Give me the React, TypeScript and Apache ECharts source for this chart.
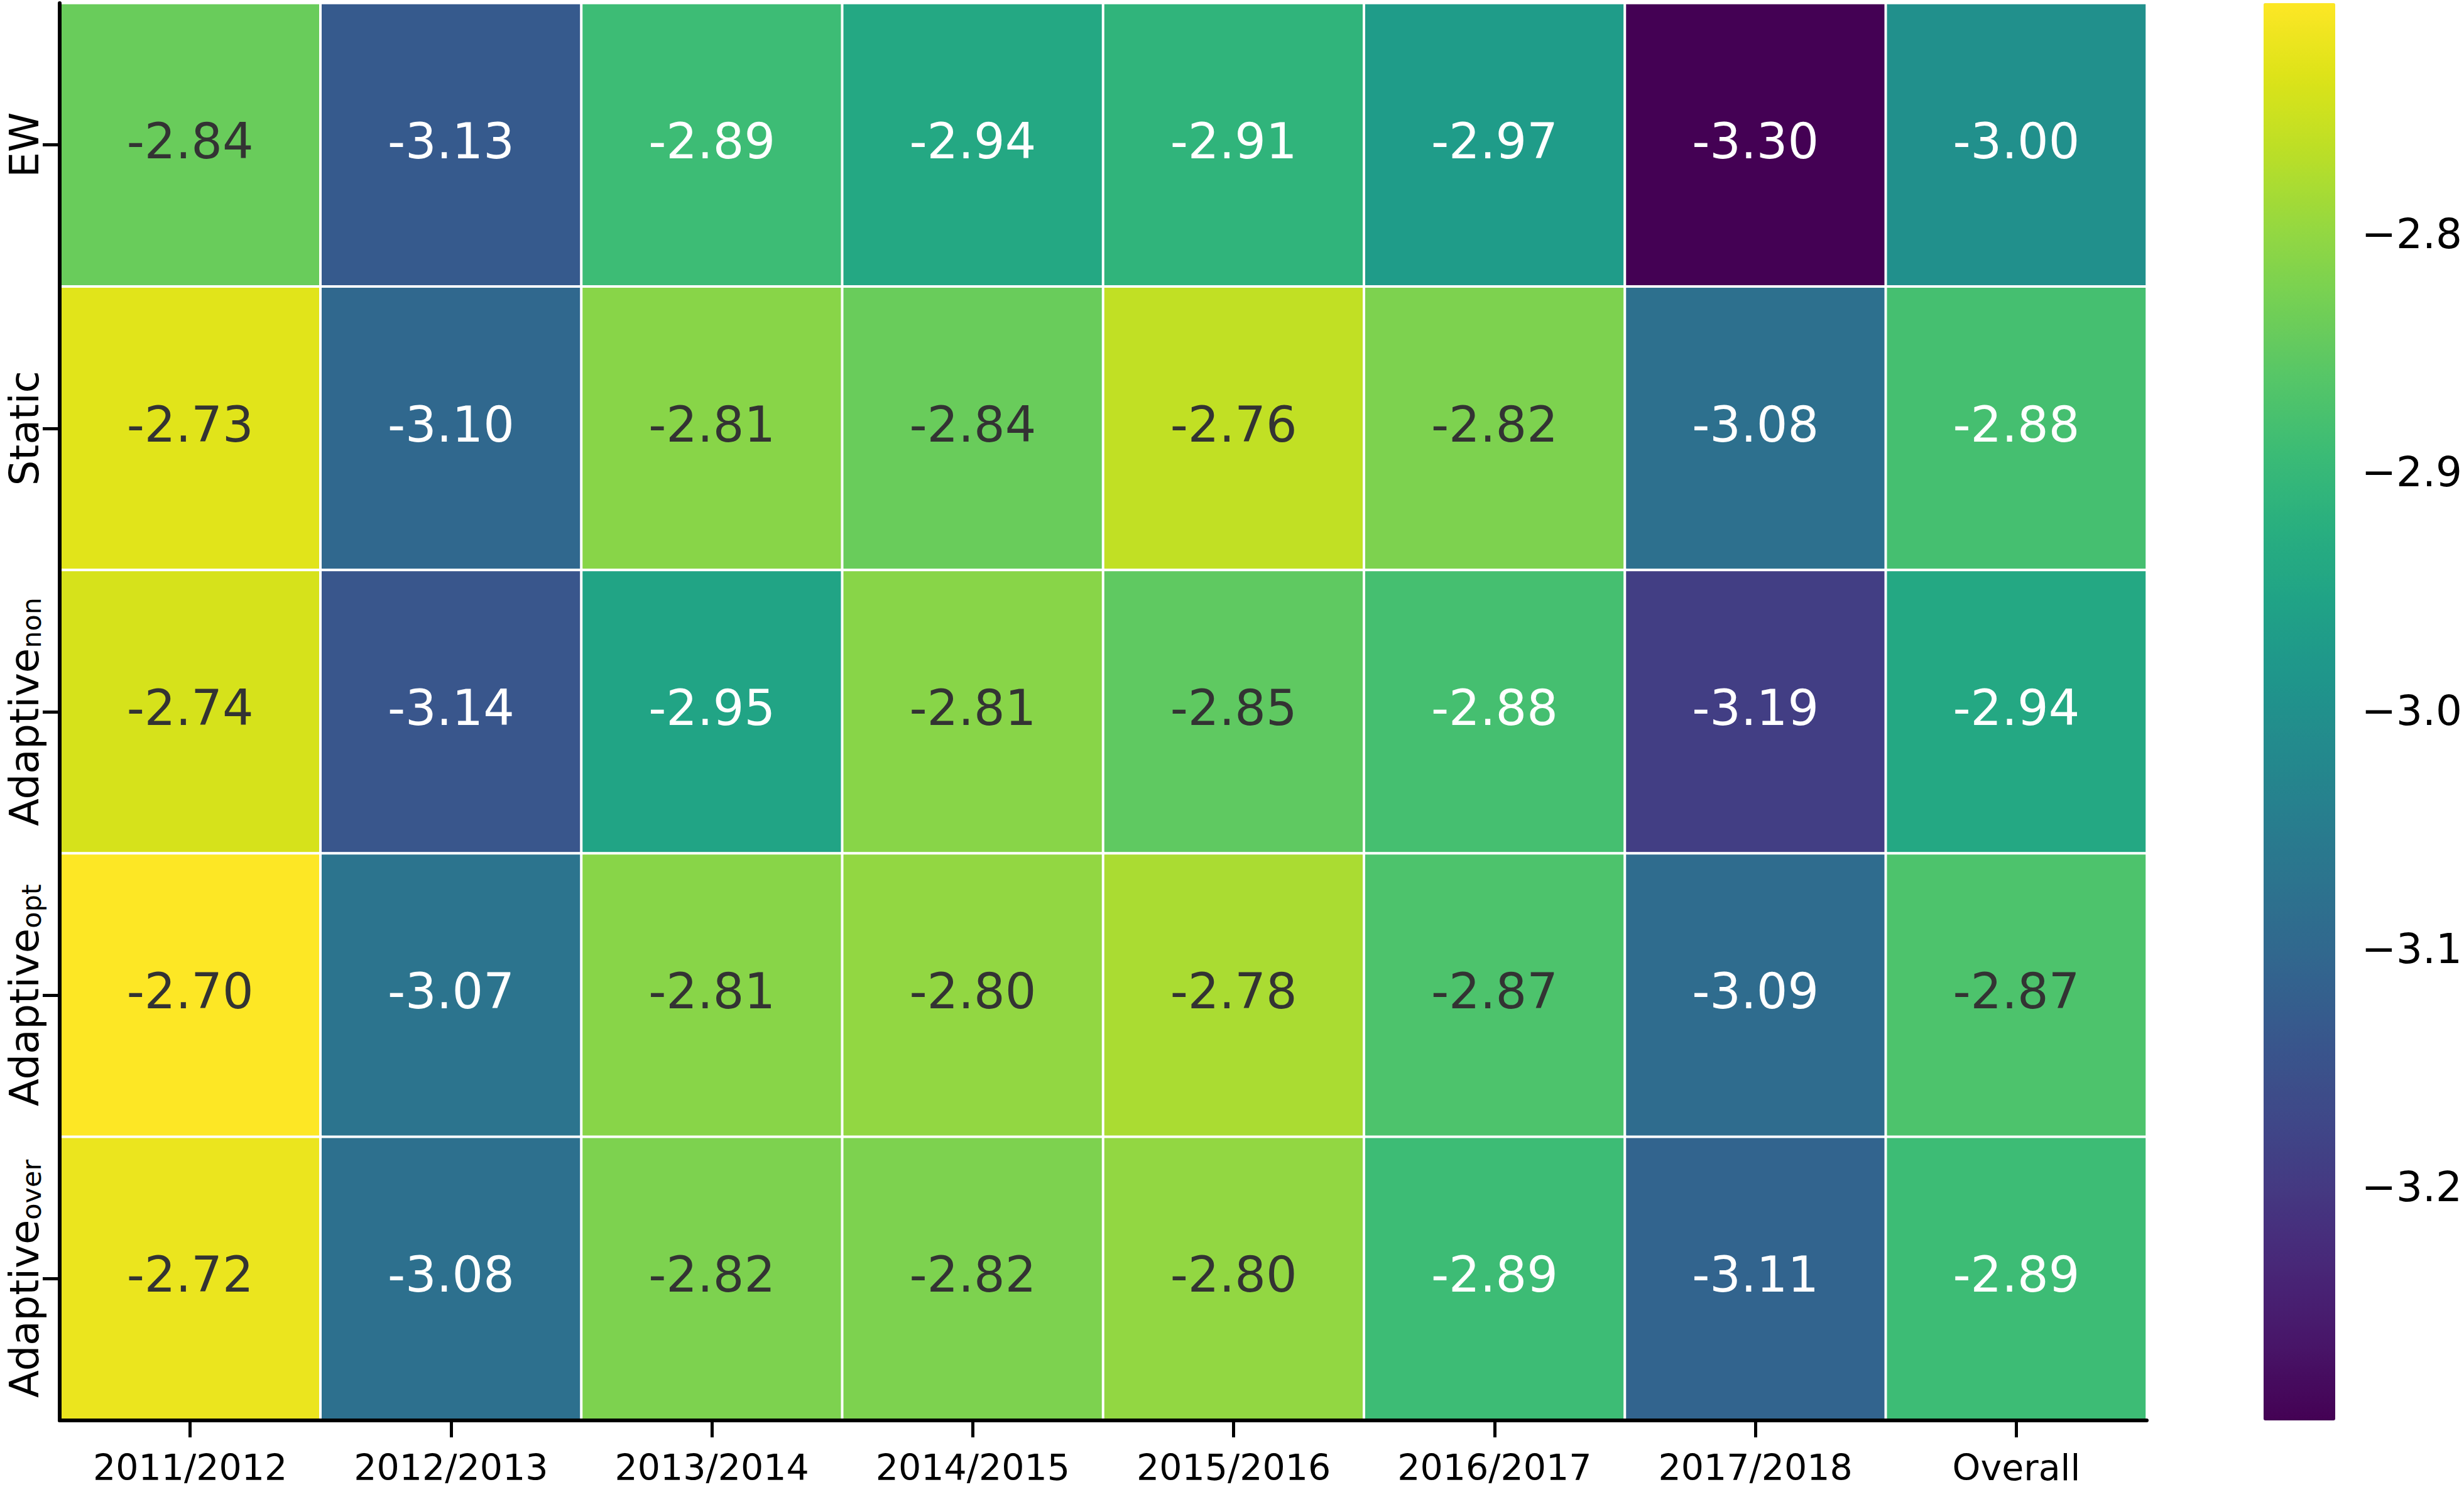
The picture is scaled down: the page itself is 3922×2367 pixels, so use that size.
import React, { useEffect, useRef } from "react";
import * as echarts from "echarts";

const xCategories = ["2011/2012", "2012/2013", "2013/2014", "2014/2015", "2015/2016", "2016/2017", "2017/2018", "Overall"];
const yBase = ["EW", "Static", "Adaptive", "Adaptive", "Adaptive"];
const ySub = ["", "", "non", "opt", "over"];

const rowEW = [-2.84, -3.13, -2.89, -2.94, -2.91, -2.97, -3.30, -3.00];
const rowStatic = [-2.73, -3.10, -2.81, -2.84, -2.76, -2.82, -3.08, -2.88];
const rowAdaptiveNon = [-2.74, -3.14, -2.95, -2.81, -2.85, -2.88, -3.19, -2.94];
const rowAdaptiveOpt = [-2.70, -3.07, -2.81, -2.80, -2.78, -2.87, -3.09, -2.87];
const rowAdaptiveOver = [-2.72, -3.08, -2.82, -2.82, -2.80, -2.89, -3.11, -2.89];
const rows = [rowEW, rowStatic, rowAdaptiveNon, rowAdaptiveOpt, rowAdaptiveOver];

const colorMin = -3.298;
const colorMax = -2.703;
const colorbarTicks = [-3.2, -3.1, -3.0, -2.9, -2.8];
const textThreshold = -2.875;

const viridis = [
  "#440154", "#481568", "#482677", "#453781", "#3F4788", "#39558C", "#32648E",
  "#2D718E", "#287D8E", "#238A8D", "#1F968B", "#20A386", "#29AF7F", "#3CBC75",
  "#56C667", "#75D054", "#95D840", "#BBDF27", "#DCE318", "#FDE725",
];

const FONT = "DejaVu Sans";

export default function App() {
  const ref = useRef<HTMLDivElement>(null);
  useEffect(() => {
    if (!ref.current) return;
    const chart = echarts.init(ref.current, null, { renderer: "svg" });
    const yLabels = yBase.map((b, i) => (ySub[i] ? b + "_" + ySub[i] : b));
    const data: any[] = [];
    rows.forEach((row, yi) => {
      row.forEach((v, xi) => {
        data.push({
          value: [xi, yi, v],
          label: { color: v > textThreshold ? "#333333" : "#ffffff" },
        });
      });
    });
    chart.setOption({
      animation: false,
      backgroundColor: "#ffffff",
      textStyle: { fontFamily: FONT },
      grid: [
        { left: 95, top: 5, width: 3322, height: 2256 },
        { left: 3603, top: 5, width: 114, height: 2256 },
      ],
      xAxis: [
        {
          type: "category",
          gridIndex: 0,
          z: 10,
          data: xCategories,
          axisLine: { show: true, lineStyle: { color: "#000", width: 6 } },
          axisTick: { show: true, alignWithLabel: true, length: 27, lineStyle: { color: "#000", width: 5 } },
          axisLabel: { fontSize: 57, lineHeight: 60, color: "#000", fontFamily: FONT, margin: 45 },
          splitLine: { show: false },
        },
        { type: "value", gridIndex: 1, show: false, min: 0, max: 1 },
      ],
      yAxis: [
        {
          type: "category",
          gridIndex: 0,
          z: 10,
          data: yLabels,
          inverse: true,
          axisLine: { show: true, lineStyle: { color: "#000", width: 6 } },
          axisTick: { show: true, alignWithLabel: true, length: 27, lineStyle: { color: "#000", width: 5 } },
          axisLabel: {
            rotate: 90,
            margin: 24,
            color: "#000",
            fontFamily: FONT,
            formatter: (val: string) => {
              const parts = val.split("_");
              if (parts.length > 1) return "{m|" + parts[0] + "}{s|" + parts[1] + "}";
              return "{m|" + parts[0] + "}";
            },
            rich: {
              m: { fontSize: 64, lineHeight: 64, fontFamily: FONT, color: "#000" },
              s: { fontSize: 43, lineHeight: 26, verticalAlign: "bottom", fontFamily: FONT, color: "#000" },
            },
          },
          splitLine: { show: false },
        },
        {
          type: "value",
          gridIndex: 1,
          position: "right",
          min: colorMin,
          max: colorMax,
          axisLine: { show: false },
          axisTick: {
            show: true,
            length: 26,
            lineStyle: { color: "#000", width: 5 },
            customValues: colorbarTicks,
          },
          axisLabel: {
            fontSize: 66,
            color: "#000",
            fontFamily: FONT,
            margin: 54,
            customValues: colorbarTicks,
            formatter: (v: number) => (v < 0 ? "\u2212" : "") + Math.abs(v).toFixed(1),
          },
          splitLine: { show: false },
        },
      ],
      visualMap: {
        type: "continuous",
        min: colorMin,
        max: colorMax,
        seriesIndex: 0,
        orient: "vertical",
        left: 3603,
        top: 5,
        itemWidth: 114,
        itemHeight: 2256,
        padding: 0,
        calculable: false,
        hoverLink: false,
        showLabel: false,
        text: null,
        inRange: { color: viridis },
      },
      series: [
        {
          type: "heatmap",
          xAxisIndex: 0,
          yAxisIndex: 0,
          data,
          itemStyle: { borderColor: "#ffffff", borderWidth: 4 },
          emphasis: { disabled: true },
          label: {
            show: true,
            fontSize: 78,
            fontFamily: FONT,
            offset: [0, -6],
            formatter: (p: any) => p.value[2].toFixed(2),
          },
        },
      ],
    });
    return () => chart.dispose();
  }, []);
  return (
    <div
      ref={ref}
      style={{ position: "fixed", left: 0, top: 0, width: 3922, height: 2367 }}
    />
  );
}
